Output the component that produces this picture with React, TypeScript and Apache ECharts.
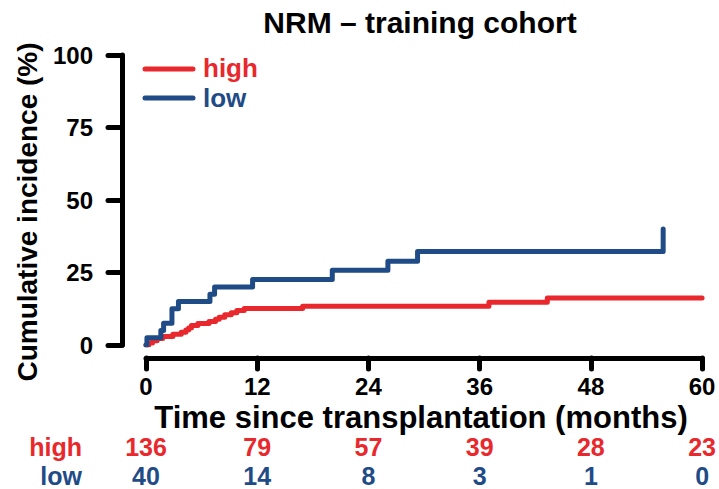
import React, { useEffect, useRef } from "react";
import * as echarts from "echarts";

// Cumulative incidence of non-relapse mortality (%), step points (month, %)
const highTimes = [0, 0.3, 0.7, 1.2, 1.8, 2.9, 3.8, 4.3, 4.6, 4.9, 5.6, 6.8, 7.5, 7.9, 8.5, 9.2, 9.8, 10.6, 16.9, 37.0, 43.3, 60];
const highCI = [0, 0.7, 1.5, 2.2, 2.9, 3.7, 4.4, 5.2, 5.9, 6.7, 7.4, 8.1, 8.9, 9.6, 10.4, 11.1, 11.9, 12.6, 13.4, 14.7, 16.2, 16.2];

const lowTimes = [0, 0.1, 1.6, 1.9, 2.8, 3.5, 6.9, 7.4, 11.5, 20.1, 26.1, 29.3, 55.8];
const lowCI = [0, 2.5, 5.0, 7.5, 12.5, 15.0, 17.5, 20.0, 22.6, 25.8, 28.9, 32.2, 40.0];

// Numbers at risk at 0, 12, 24, 36, 48, 60 months
const riskMonths = [0, 12, 24, 36, 48, 60];
const highAtRisk = [136, 79, 57, 39, 28, 23];
const lowAtRisk = [40, 14, 8, 3, 1, 0];

const yTicks = [0, 25, 50, 75, 100];

const RED = "#e8282c";
const BLUE = "#1f4b87";
const FONT = '"Liberation Sans", Arial, Helvetica, sans-serif';

const pair = (xs: number[], ys: number[]) => xs.map((x, i) => [x, ys[i]]);

const riskAxis = (counts: number[], color: string, offset: number, name: string) => ({
  type: "value",
  gridIndex: 0,
  position: "bottom",
  min: riskMonths[0],
  max: riskMonths[riskMonths.length - 1],
  interval: 12,
  offset,
  axisLine: { show: false, onZero: false },
  axisTick: { show: false },
  splitLine: { show: false },
  name,
  nameLocation: "start",
  nameGap: 64,
  nameTextStyle: {
    color,
    fontFamily: FONT,
    fontWeight: "bold",
    fontSize: 25,
    verticalAlign: "middle",
  },
  axisLabel: {
    margin: 0,
    color,
    fontFamily: FONT,
    fontWeight: "bold",
    fontSize: 25,
    verticalAlign: "middle",
    formatter: (v: number) => {
      const i = riskMonths.indexOf(Math.round(v));
      return i >= 0 ? String(counts[i]) : "";
    },
  },
});

export default function App() {
  const ref = useRef<HTMLDivElement>(null);

  useEffect(() => {
    if (!ref.current) return;
    const chart = echarts.init(ref.current, undefined, { renderer: "svg" });
    chart.setOption({
      animation: false,
      backgroundColor: "#ffffff",
      grid: { left: 146, right: 15, top: 55, bottom: 144, containLabel: false },
      xAxis: [
        {
          type: "value",
          min: 0,
          max: 60,
          interval: 12,
          offset: 13,
          axisLine: { show: true, onZero: false, lineStyle: { color: "#000", width: 5, cap: "round" } },
          axisTick: { show: true, length: 11, lineStyle: { color: "#000", width: 5, cap: "round" } },
          splitLine: { show: false },
          axisLabel: {
            margin: 16,
            color: "#000",
            fontFamily: FONT,
            fontWeight: "bold",
            fontSize: 24,
            lineHeight: 24,
          },
        },
        riskAxis(highAtRisk, RED, 102, "high"),
        riskAxis(lowAtRisk, BLUE, 131, "low"),
      ],
      yAxis: {
        type: "value",
        min: 0,
        max: 100,
        interval: 25,
        offset: 24,
        axisLine: { show: true, onZero: false, lineStyle: { color: "#000", width: 5, cap: "round" } },
        axisTick: { show: true, length: 14, lineStyle: { color: "#000", width: 5, cap: "round" } },
        splitLine: { show: false },
        axisLabel: {
          margin: 29,
          color: "#000",
          fontFamily: FONT,
          fontWeight: "bold",
          fontSize: 24,
          formatter: (v: number) => (yTicks.includes(v) ? String(v) : ""),
        },
      },
      series: [
        {
          name: "high",
          type: "line",
          step: "end",
          showSymbol: false,
          data: pair(highTimes, highCI),
          lineStyle: { color: RED, width: 5, cap: "round", join: "round" },
          z: 3,
        },
        {
          name: "low",
          type: "line",
          step: "end",
          showSymbol: false,
          data: pair(lowTimes, lowCI),
          lineStyle: { color: BLUE, width: 5, cap: "round", join: "round" },
          z: 4,
        },
      ],
      graphic: [
        {
          type: "text",
          x: 420,
          y: 22,
          style: {
            text: "NRM – training cohort",
            fill: "#000",
            font: `bold 30px ${FONT}`,
            textAlign: "center",
            textVerticalAlign: "middle",
          },
        },
        {
          type: "text",
          x: 421,
          y: 417,
          style: {
            text: "Time since transplantation (months)",
            fill: "#000",
            font: `bold 31px ${FONT}`,
            textAlign: "center",
            textVerticalAlign: "middle",
          },
        },
        {
          type: "text",
          x: 27,
          y: 212,
          rotation: Math.PI / 2,
          style: {
            text: "Cumulative incidence (%)",
            fill: "#000",
            font: `bold 28px ${FONT}`,
            textAlign: "center",
            textVerticalAlign: "middle",
          },
        },
        {
          type: "line",
          shape: { x1: 145, y1: 69, x2: 193, y2: 69 },
          style: { stroke: RED, lineWidth: 5, lineCap: "round" },
        },
        {
          type: "text",
          x: 203,
          y: 68,
          style: {
            text: "high",
            fill: RED,
            font: `bold 26px ${FONT}`,
            textAlign: "left",
            textVerticalAlign: "middle",
          },
        },
        {
          type: "line",
          shape: { x1: 145, y1: 98, x2: 193, y2: 98 },
          style: { stroke: BLUE, lineWidth: 5, lineCap: "round" },
        },
        {
          type: "text",
          x: 203,
          y: 98,
          style: {
            text: "low",
            fill: BLUE,
            font: `bold 26px ${FONT}`,
            textAlign: "left",
            textVerticalAlign: "middle",
          },
        },
      ],
    });
    return () => chart.dispose();
  }, []);

  return (
    <div
      ref={ref}
      style={{ position: "fixed", left: 0, top: 0, width: 719, height: 489, background: "#fff" }}
    />
  );
}
